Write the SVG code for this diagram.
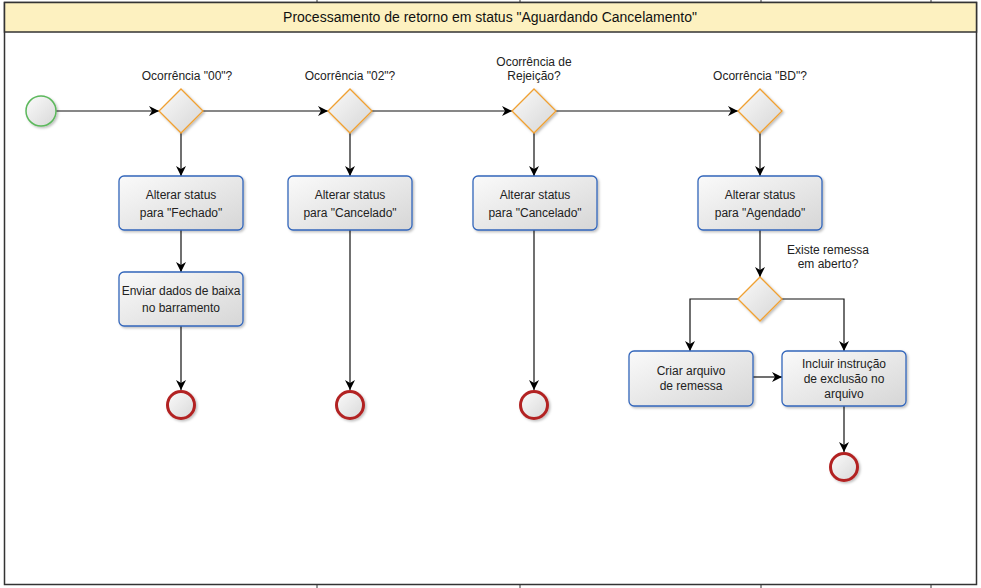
<svg xmlns="http://www.w3.org/2000/svg" width="981" height="588" viewBox="0 0 981 588">
<defs>
<linearGradient id="gBox" x1="0" y1="0" x2="1" y2="1">
<stop offset="0" stop-color="#fafafa"/><stop offset="1" stop-color="#d6d6d6"/>
</linearGradient>
<linearGradient id="gCirc" x1="0" y1="0" x2="1" y2="1">
<stop offset="0" stop-color="#fbfbfb"/><stop offset="1" stop-color="#d8d8d8"/>
</linearGradient>
<filter id="sh" x="-20%" y="-20%" width="140%" height="140%">
<feDropShadow dx="1.5" dy="1.5" stdDeviation="1.2" flood-color="#000" flood-opacity="0.25"/>
</filter>
<marker id="arr" viewBox="0 0 10 10" refX="10" refY="5" markerWidth="10" markerHeight="10" markerUnits="userSpaceOnUse" orient="auto">
<path d="M0,0 L10,5 L0,10 L3,5 Z" fill="#000"/>
</marker>
</defs>
<style>
.box{fill:url(#gBox);stroke:#3366bb;stroke-width:1.3;filter:url(#sh)}
.dia{fill:url(#gBox);stroke:#f0a030;stroke-width:1.3;filter:url(#sh)}
.start{fill:url(#gCirc);stroke:#5cb85c;stroke-width:1.5;filter:url(#sh)}
.end{fill:url(#gCirc);stroke:#b22222;stroke-width:3;filter:url(#sh)}
.t{font-family:"Liberation Sans",Arial,sans-serif;font-size:12px;fill:#222;text-anchor:middle}
.title{font-family:"Liberation Sans",Arial,sans-serif;font-size:14px;fill:#111;text-anchor:middle}
.c{fill:none;stroke:#111;stroke-width:1.2;marker-end:url(#arr)}
.tick{stroke:#333;stroke-width:1}
</style>
<rect x="0" y="0" width="981" height="588" fill="#fff"/>
<g id="frame">
<line class="tick" x1="317" y1="0" x2="317" y2="3"/>
<line class="tick" x1="520" y1="0" x2="520" y2="3"/>
<line class="tick" x1="761" y1="0" x2="761" y2="3"/>
<line class="tick" x1="931" y1="0" x2="931" y2="3"/>
<line class="tick" x1="317" y1="585" x2="317" y2="588"/>
<line class="tick" x1="520" y1="585" x2="520" y2="588"/>
<line class="tick" x1="761" y1="585" x2="761" y2="588"/>
<line class="tick" x1="931" y1="585" x2="931" y2="588"/>
<rect x="4.5" y="2.5" width="972" height="582" fill="#fff" stroke="#333" stroke-width="1.5"/>
<rect x="4.5" y="2.5" width="972" height="29.5" fill="#fdf1c0" stroke="#333" stroke-width="1.5"/>
<text class="title" x="490" y="22">Processamento de retorno em status "Aguardando Cancelamento"</text>
</g>
<g id="connectors">
<path class="c" d="M56,111 L159,111"/>
<path class="c" d="M203,111 L328,111"/>
<path class="c" d="M372,111 L512,111"/>
<path class="c" d="M556,111 L738,111"/>
<path class="c" d="M181,133 L181,176"/>
<path class="c" d="M350,133 L350,176"/>
<path class="c" d="M534,133 L534,176"/>
<path class="c" d="M760,133 L760,176"/>
<path class="c" d="M181,230 L181,272"/>
<path class="c" d="M181,326 L181,390"/>
<path class="c" d="M350,230 L350,390"/>
<path class="c" d="M534,230 L534,390"/>
<path class="c" d="M760,230 L760,277"/>
<path class="c" d="M738,299 L690,299 L690,351"/>
<path class="c" d="M782,299 L844,299 L844,351"/>
<path class="c" d="M753,377 L782,377"/>
<path class="c" d="M844,406 L844,452"/>
</g>
<g id="start"><circle class="start" cx="41" cy="111" r="15"/></g>
<g id="d1"><path class="dia" d="M181,89 L203,111 L181,133 L159,111 Z"/><text class="t" x="187" y="80">Ocorrência "00"?</text></g>
<g id="d2"><path class="dia" d="M350,89 L372,111 L350,133 L328,111 Z"/><text class="t" x="350" y="80">Ocorrência "02"?</text></g>
<g id="d3"><path class="dia" d="M534,89 L556,111 L534,133 L512,111 Z"/><text class="t" x="534" y="66">Ocorrência de</text><text class="t" x="534" y="80">Rejeição?</text></g>
<g id="d4"><path class="dia" d="M760,89 L782,111 L760,133 L738,111 Z"/><text class="t" x="760" y="80">Ocorrência "BD"?</text></g>
<g id="b1"><rect class="box" x="119" y="176" width="124" height="54" rx="5"/><text class="t" x="181" y="199">Alterar status</text><text class="t" x="181" y="217">para "Fechado"</text></g>
<g id="b2"><rect class="box" x="288" y="176" width="124" height="54" rx="5"/><text class="t" x="350" y="199">Alterar status</text><text class="t" x="350" y="217">para "Cancelado"</text></g>
<g id="b3"><rect class="box" x="473" y="176" width="124" height="54" rx="5"/><text class="t" x="535" y="199">Alterar status</text><text class="t" x="535" y="217">para "Cancelado"</text></g>
<g id="b4"><rect class="box" x="698" y="176" width="124" height="54" rx="5"/><text class="t" x="760" y="199">Alterar status</text><text class="t" x="760" y="217">para "Agendado"</text></g>
<g id="b5"><rect class="box" x="119" y="272" width="124" height="54" rx="5"/><text class="t" x="181" y="295">Enviar dados de baixa</text><text class="t" x="181" y="312">no barramento</text></g>
<g id="d5"><path class="dia" d="M760,277 L782,299 L760,321 L738,299 Z"/><text class="t" x="828" y="254">Existe remessa</text><text class="t" x="828" y="268">em aberto?</text></g>
<g id="b6"><rect class="box" x="629" y="351" width="124" height="55" rx="5"/><text class="t" x="691" y="375">Criar arquivo</text><text class="t" x="691" y="390">de remessa</text></g>
<g id="b7"><rect class="box" x="782" y="351" width="124" height="55" rx="5"/><text class="t" x="844" y="368">Incluir instrução</text><text class="t" x="844" y="383">de exclusão no</text><text class="t" x="844" y="398">arquivo</text></g>
<g id="e1"><circle class="end" cx="181" cy="405" r="13.5"/></g>
<g id="e2"><circle class="end" cx="350" cy="405" r="13.5"/></g>
<g id="e3"><circle class="end" cx="534" cy="405" r="13.5"/></g>
<g id="e4"><circle class="end" cx="844" cy="467" r="13.5"/></g>
</svg>
